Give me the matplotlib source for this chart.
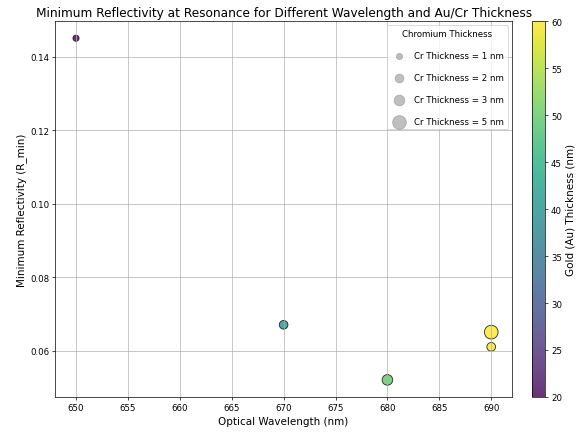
import numpy as np
import matplotlib.pyplot as plt

# data
wavelength = [650, 670, 680, 690, 690]
r_min = [0.145, 0.067, 0.052, 0.065, 0.061]
au_thickness = [20, 40, 50, 60, 60]
cr_thickness = [1, 2, 3, 5, 2]
legend_cr = [1, 2, 3, 5]

fig = plt.figure(figsize=(9.42, 6.955), dpi=62.4)
ax = fig.add_axes([0.094, 0.083, 0.777, 0.866])
cax = fig.add_axes([0.905, 0.083, 0.022, 0.866])

sizes = [c * 50 for c in cr_thickness]
sc = ax.scatter(wavelength, r_min, s=sizes, c=au_thickness, cmap='viridis',
                vmin=20, vmax=60, alpha=0.8, edgecolors='k', linewidths=1)

cb = fig.colorbar(sc, cax=cax)
cb.set_label('Gold (Au) Thickness (nm)', fontsize=12)

handles = [ax.scatter([], [], s=c * 50, c='gray', alpha=0.5) for c in legend_cr]
labels = ['Cr Thickness = %d nm' % c for c in legend_cr]
ax.legend(handles, labels, title='Chromium Thickness', loc='upper right',
          labelspacing=1.5, fontsize=10)

ax.set_title('Minimum Reflectivity at Resonance for Different Wavelength and Au/Cr Thickness',
             fontsize=14)
ax.set_xlabel('Optical Wavelength (nm)', fontsize=12)
ax.set_ylabel('Minimum Reflectivity (R_min)', fontsize=12)
ax.grid(True)

fig.savefig('out.png', dpi=62.4)
